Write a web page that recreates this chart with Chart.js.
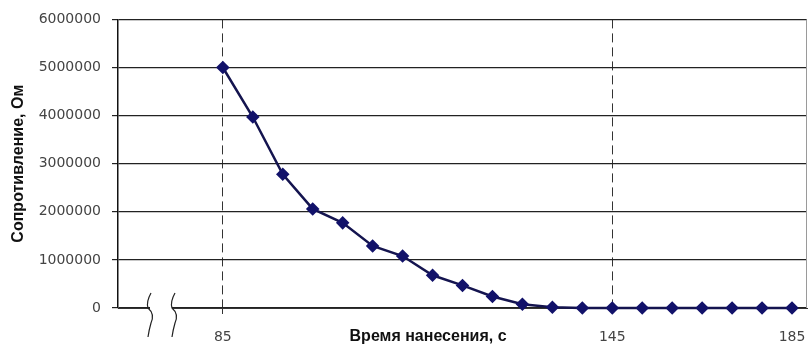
<!DOCTYPE html>
<html>
<head>
<meta charset="utf-8">
<script src="https://cdn.jsdelivr.net/npm/chart.js@4/dist/chart.umd.min.js"></script>
<style>
  html, body { margin: 0; padding: 0; background: #fff; }
</style>
</head>
<body>
<canvas id="c" width="810" height="347"></canvas>
<script>
// Categories along the time axis (three empty slots before the axis break)
const timeLabels = ['', '', '', '85', '', '', '', '', '', '', '', '', '', '', '', '', '145', '', '', '', '', '', '185'];
// Resistance, Ohm
const resistance = [null, null, null, 5000000, 3970000, 2780000, 2060000, 1770000, 1290000, 1080000,
  680000, 470000, 240000, 80000, 15000, 0, 0, 0, 0, 0, 0, 0, 0];
// Marked times with dashed guide lines
const guideLabels = ['85', '145'];
const yMin = 0, yMax = 6000000, yStep = 1000000;

const xTitle = 'Время нанесения, с';
const yTitle = 'Сопротивление, Ом';

// Frame on the right, axis break marks and the x-axis caption
const decorations = {
  id: 'decorations',
  afterDraw(chart) {
    const { ctx, chartArea: a } = chart;
    ctx.save();
    // right frame line
    ctx.strokeStyle = '#9a9a9a';
    ctx.lineWidth = 1;
    ctx.beginPath();
    ctx.moveTo(a.right - 0.5, a.top);
    ctx.lineTo(a.right - 0.5, a.bottom);
    ctx.stroke();

    // axis break: gap in the x axis with two wavy marks
    const y0 = a.bottom;
    const b1 = a.left + 31, b2 = a.left + 55;
    ctx.fillStyle = '#fff';
    ctx.fillRect(b1 + 1, y0 - 2, b2 - b1 - 2, 4);
    ctx.strokeStyle = '#222';
    ctx.lineWidth = 1.2;
    [b1, b2].forEach(x => {
      ctx.beginPath();
      ctx.moveTo(x + 2, y0 - 15);
      ctx.quadraticCurveTo(x - 3, y0 - 6, x - 1, y0);
      ctx.quadraticCurveTo(x + 6, y0 + 6, x + 2, y0 + 15);
      ctx.quadraticCurveTo(x, y0 + 22, x - 1, y0 + 29);
      ctx.stroke();
    });

    // x-axis caption
    ctx.fillStyle = '#111';
    ctx.font = 'bold 16px "Liberation Sans", Arial, sans-serif';
    ctx.textAlign = 'center';
    ctx.textBaseline = 'middle';
    ctx.fillText(xTitle, a.left + a.width * 0.45, 337);
    ctx.restore();
  }
};

new Chart(document.getElementById('c'), {
  type: 'line',
  data: {
    labels: timeLabels,
    datasets: [{
      data: resistance,
      borderColor: '#14144f',
      borderWidth: 2.5,
      pointStyle: 'rectRot',
      pointRadius: 5,
      pointBackgroundColor: '#12126a',
      pointBorderColor: '#12126a',
      tension: 0,
      spanGaps: false,
      clip: false
    }]
  },
  options: {
    responsive: false,
    animation: false,
    layout: { autoPadding: false, padding: { left: 0, right: 3, top: 19, bottom: 0 } },
    plugins: { legend: { display: false }, tooltip: { enabled: false } },
    scales: {
      x: {
        type: 'category',
        offset: true,
        afterFit(s) { s.height = 39; s.paddingLeft = 0; s.paddingRight = 0; },
        grid: {
          offset: false,
          drawOnChartArea: true,
          color: c => guideLabels.includes(timeLabels[c.index]) ? '#333' : 'rgba(0,0,0,0)',
          tickColor: c => guideLabels.includes(timeLabels[c.index]) ? '#333' : 'rgba(0,0,0,0)',
          tickLength: 6,
          tickBorderDash: [9, 5],
          lineWidth: 1
        },
        border: { display: true, color: '#333', width: 1, dash: [9, 5] },
        ticks: {
          autoSkip: false,
          maxRotation: 0,
          padding: 15,
          color: '#444',
          font: { family: '"DejaVu Sans", sans-serif', size: 14 },
          callback: (v, i) => timeLabels[i]
        }
      },
      y: {
        min: yMin,
        max: yMax,
        afterFit(s) { s.width = 118; },
        grid: { color: '#222', lineWidth: 1.2, tickLength: 6, tickColor: '#222' },
        border: { display: true, color: '#111', width: 1.5 },
        ticks: {
          stepSize: yStep,
          padding: 11,
          color: '#444',
          font: { family: '"DejaVu Sans", sans-serif', size: 14 },
          callback: v => String(v)
        },
        title: {
          display: true,
          text: yTitle,
          color: '#111',
          padding: { top: 9, bottom: 0 },
          font: { family: '"Liberation Sans", Arial, sans-serif', size: 16, weight: 'bold' }
        }
      }
    }
  },
  plugins: [decorations]
});
</script>
</body>
</html>
